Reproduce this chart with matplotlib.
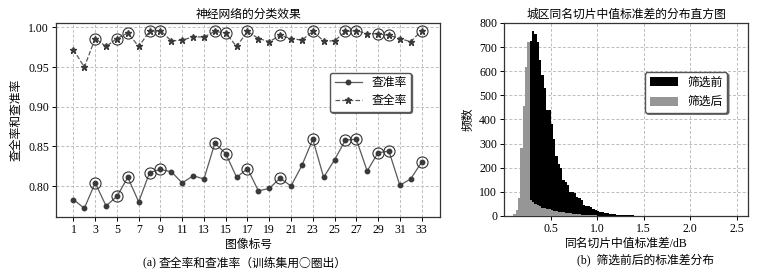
import numpy as np
import matplotlib
matplotlib.use("Agg")
import matplotlib.pyplot as plt

plt.rcParams['font.family'] = ['Liberation Serif', 'Noto Sans CJK SC']
plt.rcParams['axes.unicode_minus'] = False

# (a) precision / recall per image
image_no = np.arange(1, 34)
precision = [0.783, 0.772, 0.804, 0.775, 0.787, 0.811, 0.780, 0.817, 0.821, 0.818,
             0.804, 0.813, 0.809, 0.854, 0.841, 0.811, 0.822, 0.794, 0.797, 0.810,
             0.800, 0.826, 0.859, 0.811, 0.833, 0.858, 0.859, 0.819, 0.842, 0.844,
             0.801, 0.809, 0.830]
recall = [0.972, 0.950, 0.986, 0.976, 0.986, 0.993, 0.976, 0.995, 0.996, 0.983,
          0.984, 0.988, 0.988, 0.995, 0.993, 0.976, 0.995, 0.986, 0.982, 0.990,
          0.986, 0.984, 0.995, 0.983, 0.983, 0.995, 0.996, 0.992, 0.992, 0.990,
          0.986, 0.982, 0.996]
train_set = [3, 5, 6, 8, 9, 14, 15, 17, 20, 23, 26, 27, 29, 30, 33]

# (b) histogram of median std, before / after filtering
bin_start = 0.1
bin_width = 0.025
before = [0, 10, 30, 100, 260, 430, 600, 725, 767, 756, 722, 645, 583, 532, 438, 441,
          383, 320, 250, 215, 200, 150, 140, 128, 101, 100, 94, 80, 74, 66, 46, 42,
          40, 36, 31, 25, 22, 18, 15, 12, 11, 9, 8, 7, 6, 5, 5, 4, 4, 3,
          3, 3, 2, 2, 2, 1, 2, 1, 1, 1, 0, 1, 0, 0]
after = [8, 25, 75, 280, 455, 618, 722, 65, 58, 50, 45, 40, 35, 32, 30, 27,
         25, 22, 20, 18, 16, 15, 13, 12, 11, 10, 9, 8, 7, 6, 5, 5,
         4, 4, 3, 3, 2, 2, 2, 1, 1, 0, 0, 0, 0, 0, 0, 0, 0, 0,
         0, 0, 0, 0, 0, 0, 0, 0, 0, 0, 0, 0, 0, 0]

fig = plt.figure(figsize=(7.59, 2.72), dpi=100)
ax1 = fig.add_axes([0.0738, 0.2022, 0.506, 0.713])
ax2 = fig.add_axes([0.664, 0.2059, 0.3215, 0.7096])

grid_kw = dict(color='#bdbdbd', linestyle=(0, (3, 2)), linewidth=0.7)
fs = 8.5
shadow_kw = {'ox': 1.0, 'oy': -1.0, 'color': '0.3', 'alpha': 0.8}

# ---- left chart
ax1.plot(image_no, precision, '-', color='#5a5a5a', lw=0.9, marker='o', ms=3.2,
         mfc='#3a3a3a', mec='#3a3a3a', label='查准率', zorder=3)
ax1.plot(image_no, recall, '--', color='#5a5a5a', lw=0.9, marker='*', ms=4.5,
         mfc='#3a3a3a', mec='#3a3a3a', label='查全率', zorder=3)
idx = [i - 1 for i in train_set]
ax1.plot(image_no[idx], np.array(precision)[idx], 'o', ms=8, mfc='none', mec='#333333',
         mew=0.8, zorder=4)
ax1.plot(image_no[idx], np.array(recall)[idx], 'o', ms=8, mfc='none', mec='#333333',
         mew=0.8, zorder=4)
ax1.set_xlim(-0.6, 34.7)
ax1.set_ylim(0.761, 1.0055)
ax1.set_xticks(np.arange(1, 34, 2))
ax1.set_yticks([0.80, 0.85, 0.90, 0.95, 1.00])
ax1.set_yticklabels(['0.80', '0.85', '0.90', '0.95', '1.00'])
ax1.grid(True, **grid_kw)
ax1.set_axisbelow(True)
ax1.set_title('神经网络的分类效果', fontsize=fs, pad=4)
ax1.set_xlabel('图像标号', fontsize=fs, labelpad=2)
ax1.set_ylabel('查全率和查准率', fontsize=fs, labelpad=4)
ax1.legend(loc='upper right', bbox_to_anchor=(0.94, 0.775), fontsize=fs,
           shadow=shadow_kw, fancybox=True, framealpha=1, edgecolor='#555555',
           handlelength=2.3, labelspacing=0.5)
# caption: "(a)" in serif, the rest in the CJK font so that ○ is full size
cap_a = ax1.text(0.227, -0.237, '(a) ', transform=ax1.transAxes,
                 ha='left', va='center', fontsize=fs)
ax1.annotate('查全率和查准率（训练集用○圈出）', xy=(1, 0.5), xycoords=cap_a,
             ha='left', va='center', fontsize=fs, family=['Noto Sans CJK SC'])

# ---- right chart
edges = bin_start + bin_width * np.arange(len(before) + 1)
ax2.stairs(before, edges, fill=True, color='black', label='筛选前', zorder=2)
ax2.stairs(after, edges, fill=True, color='#969696', label='筛选后', zorder=3)
ax2.set_xlim(0, 2.62)
ax2.set_ylim(0, 800)
ax2.set_xticks([0.5, 1.0, 1.5, 2.0, 2.5])
ax2.set_yticks(np.arange(0, 801, 100))
ax2.grid(True, **grid_kw)
ax2.set_axisbelow(True)
ax2.set_title('城区同名切片中值标准差的分布直方图', fontsize=fs, pad=4)
ax2.set_xlabel('同名切片中值标准差/dB', fontsize=fs, labelpad=2)
ax2.set_ylabel('频数', fontsize=fs, labelpad=3)
ax2.legend(loc='upper right', bbox_to_anchor=(0.94, 0.775), fontsize=fs,
           shadow=shadow_kw, fancybox=True, framealpha=1, edgecolor='#555555',
           handlelength=2.4, handleheight=0.8, labelspacing=0.6)
ax2.text(0.58, -0.228, '(b)  筛选前后的标准差分布', transform=ax2.transAxes,
         ha='center', va='center', fontsize=fs)

for ax in (ax1, ax2):
    ax.tick_params(labelsize=fs, length=3, width=0.7, pad=2)
    for s in ax.spines.values():
        s.set_color('#333333')
        s.set_linewidth(0.9)

fig.savefig('out.png', dpi=100)
